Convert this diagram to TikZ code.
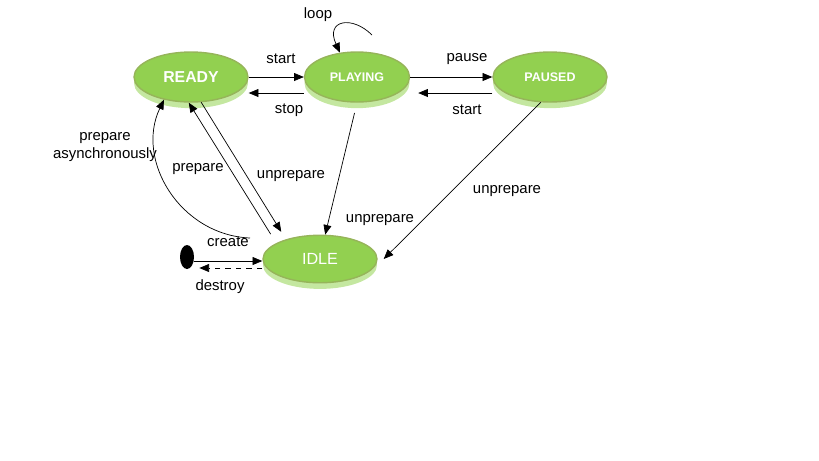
\documentclass[tikz,border=0pt]{standalone}
\usepackage{fontspec}
\setmainfont{Liberation Sans}
\usetikzlibrary{arrows.meta,positioning,shapes.geometric,shadows}

\definecolor{stategreen}{RGB}{146,208,80}
\definecolor{stateedge}{RGB}{150,180,90}
\definecolor{stateglow}{RGB}{190,228,150}

\begin{document}
\begin{tikzpicture}[
  >=Triangle, font=\fontsize{8.5}{10}\selectfont,
  st/.style={ellipse, draw=stateedge, line width=0.8pt, fill=stategreen,
             text=white, minimum width=2.28cm, minimum height=1.0cm,
             general shadow={fill=stateglow, shadow yshift=-3.5pt, opacity=0.9}},
  arr/.style={->, thin, >={Triangle[length=5.5pt, width=4.5pt]}},
  lbl/.style={align=center, inner sep=1pt},
]
  \useasboundingbox (0,0) rectangle (16.38,-9.2);

  % states
  \node[st, font=\fontsize{9}{10}\selectfont\bfseries] (ready) at (3.82,-1.54) {READY};
  \node[st, minimum width=2.1cm, font=\fontsize{7.1}{8}\selectfont\bfseries] (playing) at (7.14,-1.54) {PLAYING};
  \node[st, font=\fontsize{7.1}{8}\selectfont\bfseries] (paused) at (11.0,-1.54) {PAUSED};
  \node[st, minimum height=0.95cm, font=\fontsize{9.2}{10}\selectfont] (idle) at (6.4,-5.18) {IDLE};
  \node[ellipse, fill=black, minimum width=0.28cm, minimum height=0.48cm, inner sep=0pt] (init) at (3.74,-5.14) {};

  \coordinate (loopstart) at (7.44,-0.7);
  \coordinate (async) at (5.0,-4.76);
  \coordinate (mk) at ([yshift=-0.08cm]init.east);
  \coordinate (rm) at ([yshift=-0.22cm,xshift=0.1cm]init.east);

  % transitions
  \draw[arr] (ready.east) -- (playing.west);
  \draw[arr] ([yshift=-0.32cm]playing.west) -- ([yshift=-0.32cm]ready.east);
  \draw[arr] (playing.east) -- (paused.west);
  \draw[arr] ([yshift=-0.32cm]paused.west) -- ([yshift=-0.32cm,xshift=0.16cm]playing.east);
  \draw[arr] (loopstart) .. controls (7.04,-0.3) and (6.5,-0.4) .. (playing.125);
  \draw[arr, shorten <=6pt] (playing.south) -- (idle.78);
  \draw[arr] (paused.250) -- ([xshift=0.12cm]idle.east);
  \draw[arr, shorten >=5pt] (ready.-68) -- (idle.150);
  \draw[arr, shorten <=6pt] (idle.160) -- (ready.-95);
  \draw[arr] (async) .. controls (3.6,-4.7) and (2.7,-3.2) .. (ready.220);
  \draw[arr] (mk) -- (mk -| idle.west);
  \draw[arr, dashed] (rm -| idle.west) -- (rm);

  % labels
  \node[lbl] (lstart) at (5.62,-1.18) {start};
  \node[lbl] (lstop) at (5.78,-2.2) {stop};
  \node[lbl] (lpause) at (9.34,-1.18) {pause};
  \node[lbl] (lresume) at (9.34,-2.2) {start};
  \node[lbl] (lloop) at (6.36,-0.3) {loop};
  \node[lbl] (lasync) at (2.1,-2.94) {prepare\\asynchronously};
  \node[lbl] (lprep) at (3.96,-3.38) {prepare};
  \node[lbl] (lunprep) at (5.82,-3.52) {unprepare};
  \node[lbl] (lunplay) at (7.6,-4.4) {unprepare};
  \node[lbl] (lunpause) at (10.14,-3.82) {unprepare};
  \node[lbl] (lcreate) at (4.56,-4.84) {create};
  \node[lbl] (ldestroy) at (4.4,-5.74) {destroy};
\end{tikzpicture}
\end{document}
